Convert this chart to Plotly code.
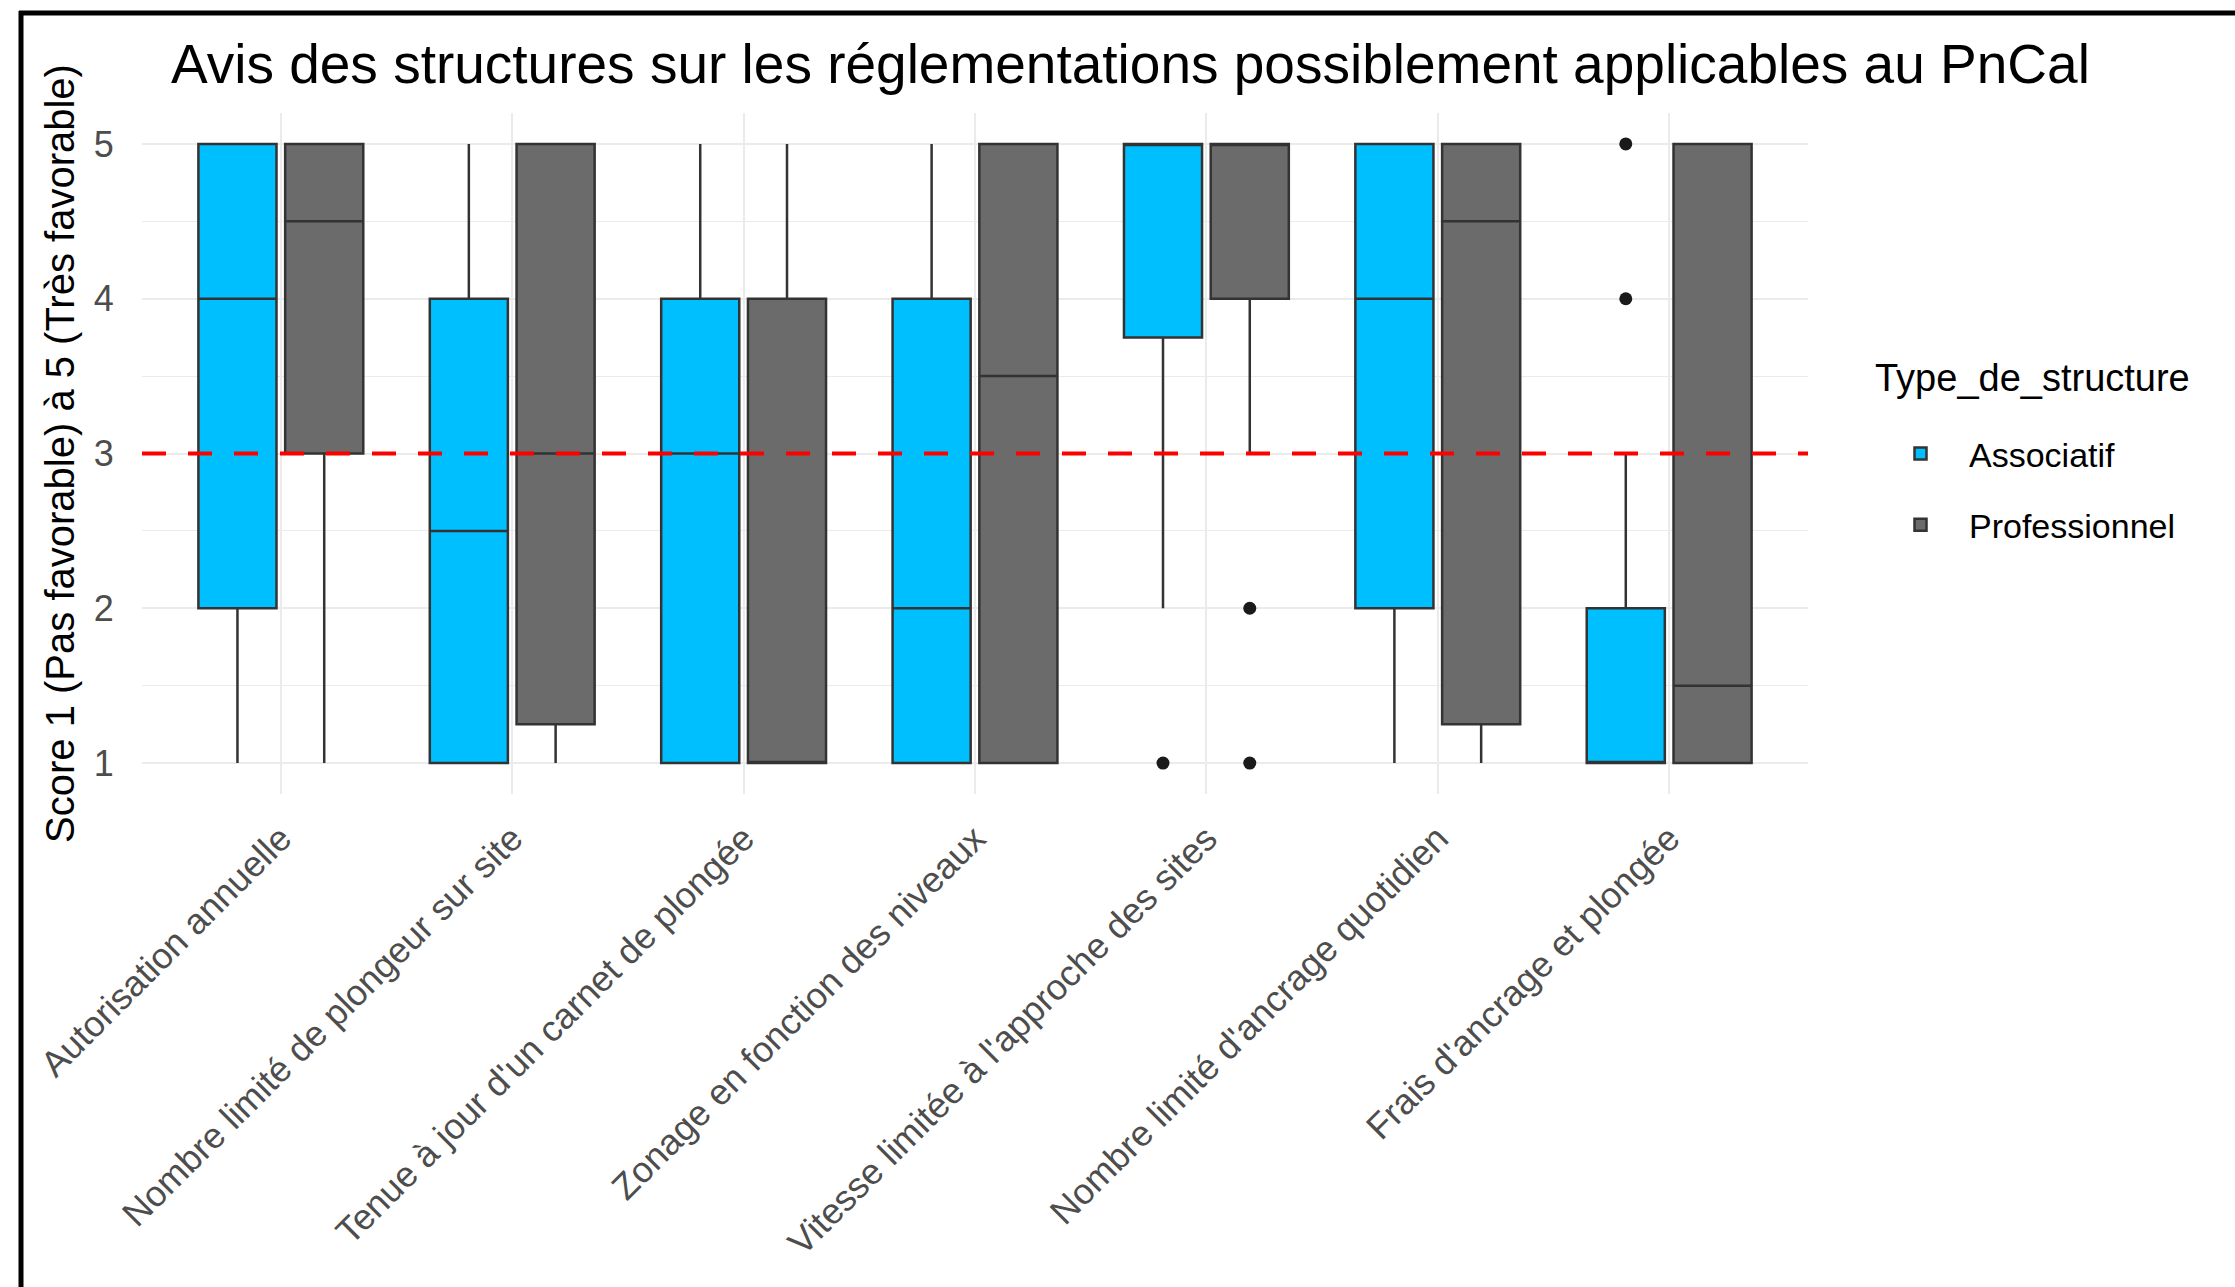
import plotly.graph_objects as go

# ---- data ----
categories = [
    "Autorisation annuelle",
    "Nombre limité de plongeur sur site",
    "Tenue à jour d'un carnet de plongée",
    "Zonage en fonction des niveaux",
    "Vitesse limitée à l'approche des sites",
    "Nombre limité d'ancrage quotidien",
    "Frais d'ancrage et plongée",
]

asso_q1 = [2, 1, 1, 1, 3.75, 2, 1]
asso_median = [4, 2.5, 3, 2, 5, 4, 1]
asso_q3 = [5, 4, 4, 4, 5, 5, 2]
asso_low = [1, 1, 1, 1, 2, 1, 1]
asso_high = [5, 5, 5, 5, 5, 5, 3]
asso_outliers = [[], [], [], [], [1], [], [4, 5]]

pro_q1 = [3, 1.25, 1, 1, 4, 1.25, 1]
pro_median = [4.5, 3, 1, 3.5, 5, 4.5, 1.5]
pro_q3 = [5, 5, 4, 5, 5, 5, 5]
pro_low = [1, 1, 1, 1, 3, 1, 1]
pro_high = [5, 5, 5, 5, 5, 5, 5]
pro_outliers = [[], [], [], [], [1, 2], [], []]

reference_score = 3
y_ticks = [1, 2, 3, 4, 5]
y_minor = [1.5, 2.5, 3.5, 4.5]

series = [
    ("Associatif", "#00BFFF", asso_q1, asso_median, asso_q3, asso_low, asso_high, asso_outliers),
    ("Professionnel", "#6B6B6B", pro_q1, pro_median, pro_q3, pro_low, pro_high, pro_outliers),
]

FONT = "Liberation Sans, Arial, sans-serif"

fig = go.Figure()
for name, color, q1, med, q3, lo, hi, outl in series:
    fig.add_trace(go.Box(
        name=name,
        x=categories,
        q1=q1, median=med, q3=q3,
        lowerfence=lo, upperfence=hi,
        boxpoints=False,
        fillcolor=color,
        line=dict(color="#333333", width=2.5),
        whiskerwidth=0,
        offsetgroup=name,
        legendgroup=name,
        hoverinfo="skip",
    ))
for name, color, q1, med, q3, lo, hi, outl in series:
    ox, oy = [], []
    for cat, vals in zip(categories, outl):
        for v in vals:
            ox.append(cat)
            oy.append(v)
    fig.add_trace(go.Scatter(
        x=ox, y=oy, mode="markers",
        marker=dict(color="#1A1A1A", size=13),
        offsetgroup=name, legendgroup=name, showlegend=False,
        hoverinfo="skip",
    ))

W, H = 2235, 1287
L, R, T, B = 142, 427, 113, 493
pw, ph = W - L - R, H - T - B

def px_x(x):
    return (x - L) / pw

def px_y(y):
    return (H - B - y) / ph

# dashed reference line
fig.add_shape(type="line", xref="paper", yref="y", x0=0, x1=1,
              y0=reference_score, y1=reference_score,
              line=dict(color="#FF0000", width=4, dash="24px,22px"), layer="above")

# outer black frame (top and left edges visible in the reference)
fig.add_shape(type="line", xref="paper", yref="paper",
              x0=px_x(21), x1=px_x(21), y0=px_y(H + 20), y1=px_y(11),
              line=dict(color="black", width=5), layer="above")
fig.add_shape(type="line", xref="paper", yref="paper",
              x0=px_x(19), x1=px_x(W + 20), y0=px_y(13), y1=px_y(13),
              line=dict(color="black", width=5), layer="above")

# legend title as annotation (ggplot-like spacing)
fig.add_annotation(text="Type_de_structure", xref="paper", yref="paper",
                   x=px_x(1873), y=px_y(378), xanchor="left", yanchor="middle",
                   showarrow=False, font=dict(size=38, color="black", family=FONT))

fig.update_layout(
    width=W, height=H, autosize=False,
    margin=dict(l=L, r=R, t=T, b=B, pad=0),
    paper_bgcolor="white", plot_bgcolor="white",
    font=dict(family=FONT, color="black"),
    boxmode="group", boxgap=0.25, boxgroupgap=0.1,
    scattermode="group", scattergap=0.25,
    title=dict(
        text="Avis des structures sur les réglementations possiblement applicables au PnCal",
        x=171 / W, xanchor="left", xref="container",
        y=1 - 64 / H, yanchor="middle", yref="container",
        font=dict(size=55, color="black", family=FONT),
    ),
    legend=dict(
        font=dict(size=34, color="black"),
        x=px_x(1872), xanchor="left",
        y=px_y(425), yanchor="top",
        tracegroupgap=24,
        itemwidth=87,
        bgcolor="rgba(0,0,0,0)",
    ),
    showlegend=True,
)

fig.update_xaxes(
    type="category",
    categoryorder="array", categoryarray=categories,
    range=[-0.6, len(categories) - 0.4],
    tickangle=-45,
    tickfont=dict(size=36, color="#4D4D4D", family=FONT),
    showgrid=True, gridcolor="#EBEBEB", gridwidth=2,
    ticks="outside", ticklen=8, tickcolor="rgba(0,0,0,0)",
    showline=False, zeroline=False,
)

fig.update_yaxes(
    range=[0.8, 5.2],
    tickvals=y_ticks,
    tickfont=dict(size=36, color="#4D4D4D", family=FONT),
    showgrid=True, gridcolor="#EBEBEB", gridwidth=2,
    minor=dict(tickvals=y_minor, showgrid=True, gridcolor="#EBEBEB", gridwidth=1, ticks=""),
    ticks="outside", ticklen=20, tickcolor="rgba(0,0,0,0)",
    showline=False, zeroline=False,
    title=dict(text="Score 1 (Pas favorable) à 5 (Très favorable)",
               font=dict(size=40, color="black", family=FONT), standoff=6),
)

fig.write_html("out.html", config={"displayModeBar": False},
               post_script="document.body.style.margin='0';")
